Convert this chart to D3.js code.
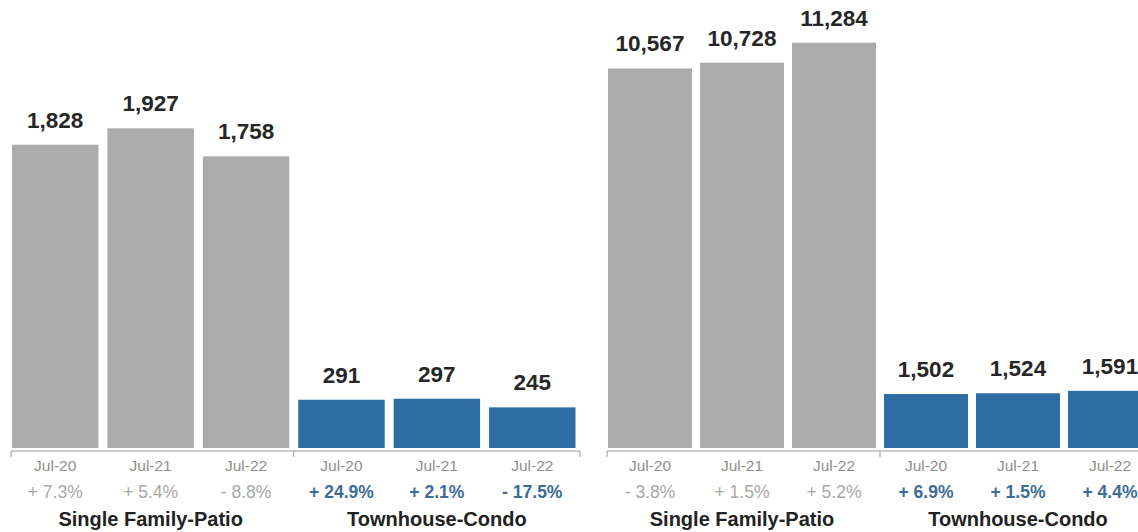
<!DOCTYPE html>
<html>
<head>
<meta charset="utf-8">
<script src="https://cdn.jsdelivr.net/npm/d3@7.9.0/dist/d3.min.js"></script>
<style>
  html, body { margin: 0; padding: 0; background: #fff; }
  svg { display: block; font-family: "Liberation Sans", Arial, sans-serif; }
</style>
</head>
<body>
<svg id="chart" width="1138" height="532"></svg>
<script>
// data
const periods = ["Jul-20", "Jul-21", "Jul-22"];
const groups = ["Single Family-Patio", "Townhouse-Condo"];

const leftSingle = [1828, 1927, 1758];
const leftTown = [291, 297, 245];
const leftSinglePct = ["+ 7.3%", "+ 5.4%", "- 8.8%"];
const leftTownPct = ["+ 24.9%", "+ 2.1%", "- 17.5%"];

const rightSingle = [10567, 10728, 11284];
const rightTown = [1502, 1524, 1591];
const rightSinglePct = ["- 3.8%", "+ 1.5%", "+ 5.2%"];
const rightTownPct = ["+ 6.9%", "+ 1.5%", "+ 4.4%"];

const grey = "#ababab", blue = "#2f6ca3";
const baseY = 448;

const svg = d3.select("#chart");

function drawPanel(cfg) {
  const rows = [];
  groups.forEach((g, gi) => {
    const vals = gi === 0 ? cfg.single : cfg.town;
    const pcts = gi === 0 ? cfg.singlePct : cfg.townPct;
    periods.forEach((p, pi) => {
      rows.push({ key: g + "|" + p, group: gi, period: p, value: vals[pi], pct: pcts[pi] });
    });
  });

  const x = d3.scaleBand()
    .domain(rows.map(d => d.key))
    .range(cfg.xRange)
    .paddingInner(cfg.pad)
    .paddingOuter(0);

  const y = d3.scaleLinear()
    .domain([0, cfg.yMax])
    .range([baseY, cfg.yTop]);

  const g = svg.append("g");
  const bw = x.bandwidth();
  const gap = x.step() - bw;

  g.selectAll("rect.bar")
    .data(rows)
    .enter().append("rect")
    .attr("class", "bar")
    .attr("x", d => x(d.key))
    .attr("y", d => y(d.value))
    .attr("width", bw)
    .attr("height", d => y(0) - y(d.value))
    .attr("fill", d => d.group === 0 ? grey : blue);

  // value labels
  g.selectAll("text.val")
    .data(rows)
    .enter().append("text")
    .attr("x", d => x(d.key) + bw / 2)
    .attr("y", d => y(d.value) - 17)
    .attr("text-anchor", "middle")
    .attr("font-size", 22.5)
    .attr("font-weight", "bold")
    .attr("fill", "#262626")
    .text(d => d3.format(",")(d.value));

  // axis line with group ticks
  const first = x(rows[0].key);
  const mid = x(rows[3].key) - gap / 2;
  const last = x(rows[5].key) + bw + gap / 2;
  const axY = baseY + 3;
  g.append("path")
    .attr("d", `M${first - 1},${axY + 6}V${axY}H${last}V${axY + 6}M${mid},${axY}V${axY + 6}`)
    .attr("fill", "none")
    .attr("stroke", "#9a9a9a")
    .attr("stroke-width", 1);

  g.selectAll("text.per")
    .data(rows)
    .enter().append("text")
    .attr("x", d => x(d.key) + bw / 2)
    .attr("y", 471)
    .attr("text-anchor", "middle")
    .attr("font-size", 15.5)
    .attr("fill", "#8f8f8f")
    .text(d => d.period);

  g.selectAll("text.pct")
    .data(rows)
    .enter().append("text")
    .attr("x", d => x(d.key) + bw / 2)
    .attr("y", 498)
    .attr("text-anchor", "middle")
    .attr("font-size", 17.5)
    .attr("font-weight", d => d.group === 1 ? "bold" : "normal")
    .attr("fill", d => d.group === 1 ? "#3b6d98" : "#a8a8a8")
    .text(d => d.pct);

  g.selectAll("text.cat")
    .data(groups)
    .enter().append("text")
    .attr("x", (d, i) => x(rows[i * 3 + 1].key) + bw / 2)
    .attr("y", 526)
    .attr("text-anchor", "middle")
    .attr("font-size", 20)
    .attr("font-weight", "bold")
    .attr("fill", "#222")
    .text(d => d);
}

drawPanel({
  single: leftSingle, town: leftTown,
  singlePct: leftSinglePct, townPct: leftTownPct,
  xRange: [12, 575.5], pad: 0.094,
  yMax: 2200, yTop: 83
});

drawPanel({
  single: rightSingle, town: rightTown,
  singlePct: rightSinglePct, townPct: rightTownPct,
  xRange: [608, 1152], pad: 0.087,
  yMax: 12000, yTop: 17
});
</script>
</body>
</html>
